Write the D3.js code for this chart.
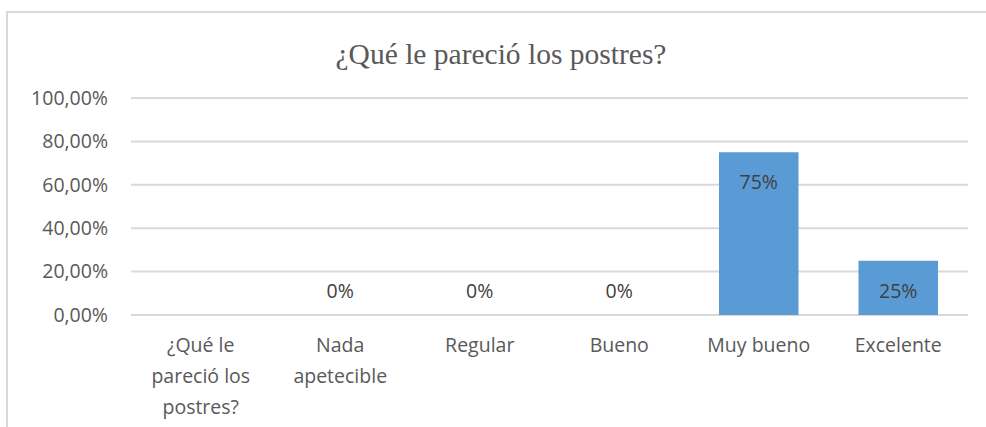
<!DOCTYPE html>
<html lang="es">
<head>
<meta charset="UTF-8">
<title>¿Qué le pareció los postres?</title>
<style>
  html, body { margin: 0; background: #fff; }
  svg { display: block; }
  .tick-label, .axis text { font-family: 'Open Sans', sans-serif; fill: #595959; }
  .value-label { font-family: 'Open Sans', sans-serif; fill: #404040; }
  .title { font-family: 'Liberation Serif', 'Times New Roman', serif; fill: #595959; }
</style>
</head>
<body>
<svg width="986" height="427"></svg>
<script src="https://d3js.org/d3.v7.min.js"></script>
<script>

// data
const categories = ["¿Qué le pareció los postres?", "Nada apetecible", "Regular", "Bueno", "Muy bueno", "Excelente"];
const categoryLines = [["¿Qué le", "pareció los", "postres?"], ["Nada", "apetecible"], ["Regular"], ["Bueno"], ["Muy bueno"], ["Excelente"]];
const values = [null, 0, 0, 0, 0.75, 0.25];
const valueLabels = ["", "0%", "0%", "0%", "75%", "25%"];
const yTicks = [0, 0.2, 0.4, 0.6, 0.8, 1];
const titleText = "¿Qué le pareció los postres?";

const svg = d3.select("svg");
const plot = {left: 131, right: 968, top: 98, bottom: 315};

// outer frame (only top and left edges show in the crop)
svg.append("path")
    .attr("d", "M7,427 V12 H986")
    .attr("fill", "none")
    .attr("stroke", "#d9d9d9")
    .attr("stroke-width", 2);

svg.append("text")
    .attr("class", "title")
    .attr("x", 501)
    .attr("y", 54)
    .attr("dy", "0.35em")
    .attr("text-anchor", "middle")
    .attr("font-size", 29.5)
    .text(titleText);

const x = d3.scaleBand()
    .domain(categories)
    .range([plot.left, plot.right])
    .paddingInner(0.43)
    .paddingOuter(0.215);

const y = d3.scaleLinear()
    .domain([0, 1])
    .range([plot.bottom, plot.top]);

const fmt = v => d3.format(".2f")(v * 100).replace(".", ",") + "%";

// gridlines
svg.append("g")
  .selectAll("line")
  .data(yTicks)
  .join("line")
    .attr("x1", plot.left)
    .attr("x2", plot.right)
    .attr("y1", d => y(d))
    .attr("y2", d => y(d))
    .attr("stroke", "#d9d9d9")
    .attr("stroke-width", 2);

// y axis labels
const yAxis = d3.axisLeft(y).tickValues(yTicks).tickFormat(fmt).tickSize(0).tickPadding(23);
svg.append("g")
    .attr("class", "axis")
    .attr("transform", "translate(" + plot.left + ",0)")
    .call(yAxis)
    .call(g => g.select(".domain").remove())
    .call(g => g.selectAll("text").attr("font-size", 19.5).attr("font-family", "'Open Sans', sans-serif"));

// bars
svg.append("g")
  .selectAll("rect")
  .data(values.map((v, i) => ({c: categories[i], v: v})).filter(d => d.v))
  .join("rect")
    .attr("x", d => x(d.c))
    .attr("width", x.bandwidth())
    .attr("y", d => y(d.v))
    .attr("height", d => y(0) - y(d.v))
    .attr("fill", "#5b9bd5");

// value labels
svg.append("g")
  .selectAll("text")
  .data(values.map((v, i) => ({c: categories[i], v: v, t: valueLabels[i]})).filter(d => d.v !== null))
  .join("text")
    .attr("class", "value-label")
    .attr("x", d => x(d.c) + x.bandwidth() / 2)
    .attr("y", d => Math.min(y(d.v) + 30, y(0) - 24))
    .attr("dy", "0.35em")
    .attr("text-anchor", "middle")
    .attr("font-size", 19.5)
    .text(d => d.t);

// category labels (wrapped)
const cat = svg.append("g")
  .selectAll("text")
  .data(categories)
  .join("text")
    .attr("class", "tick-label")
    .attr("x", d => x(d) + x.bandwidth() / 2)
    .attr("y", 345)
    .attr("text-anchor", "middle")
    .attr("font-size", 19.5);

cat.selectAll("tspan")
  .data((d, i) => categoryLines[i])
  .join("tspan")
    .attr("x", function () { return this.parentNode.getAttribute("x"); })
    .attr("dy", (d, i) => i === 0 ? "0.35em" : 31)
    .text(d => d);

</script>
</body>
</html>
